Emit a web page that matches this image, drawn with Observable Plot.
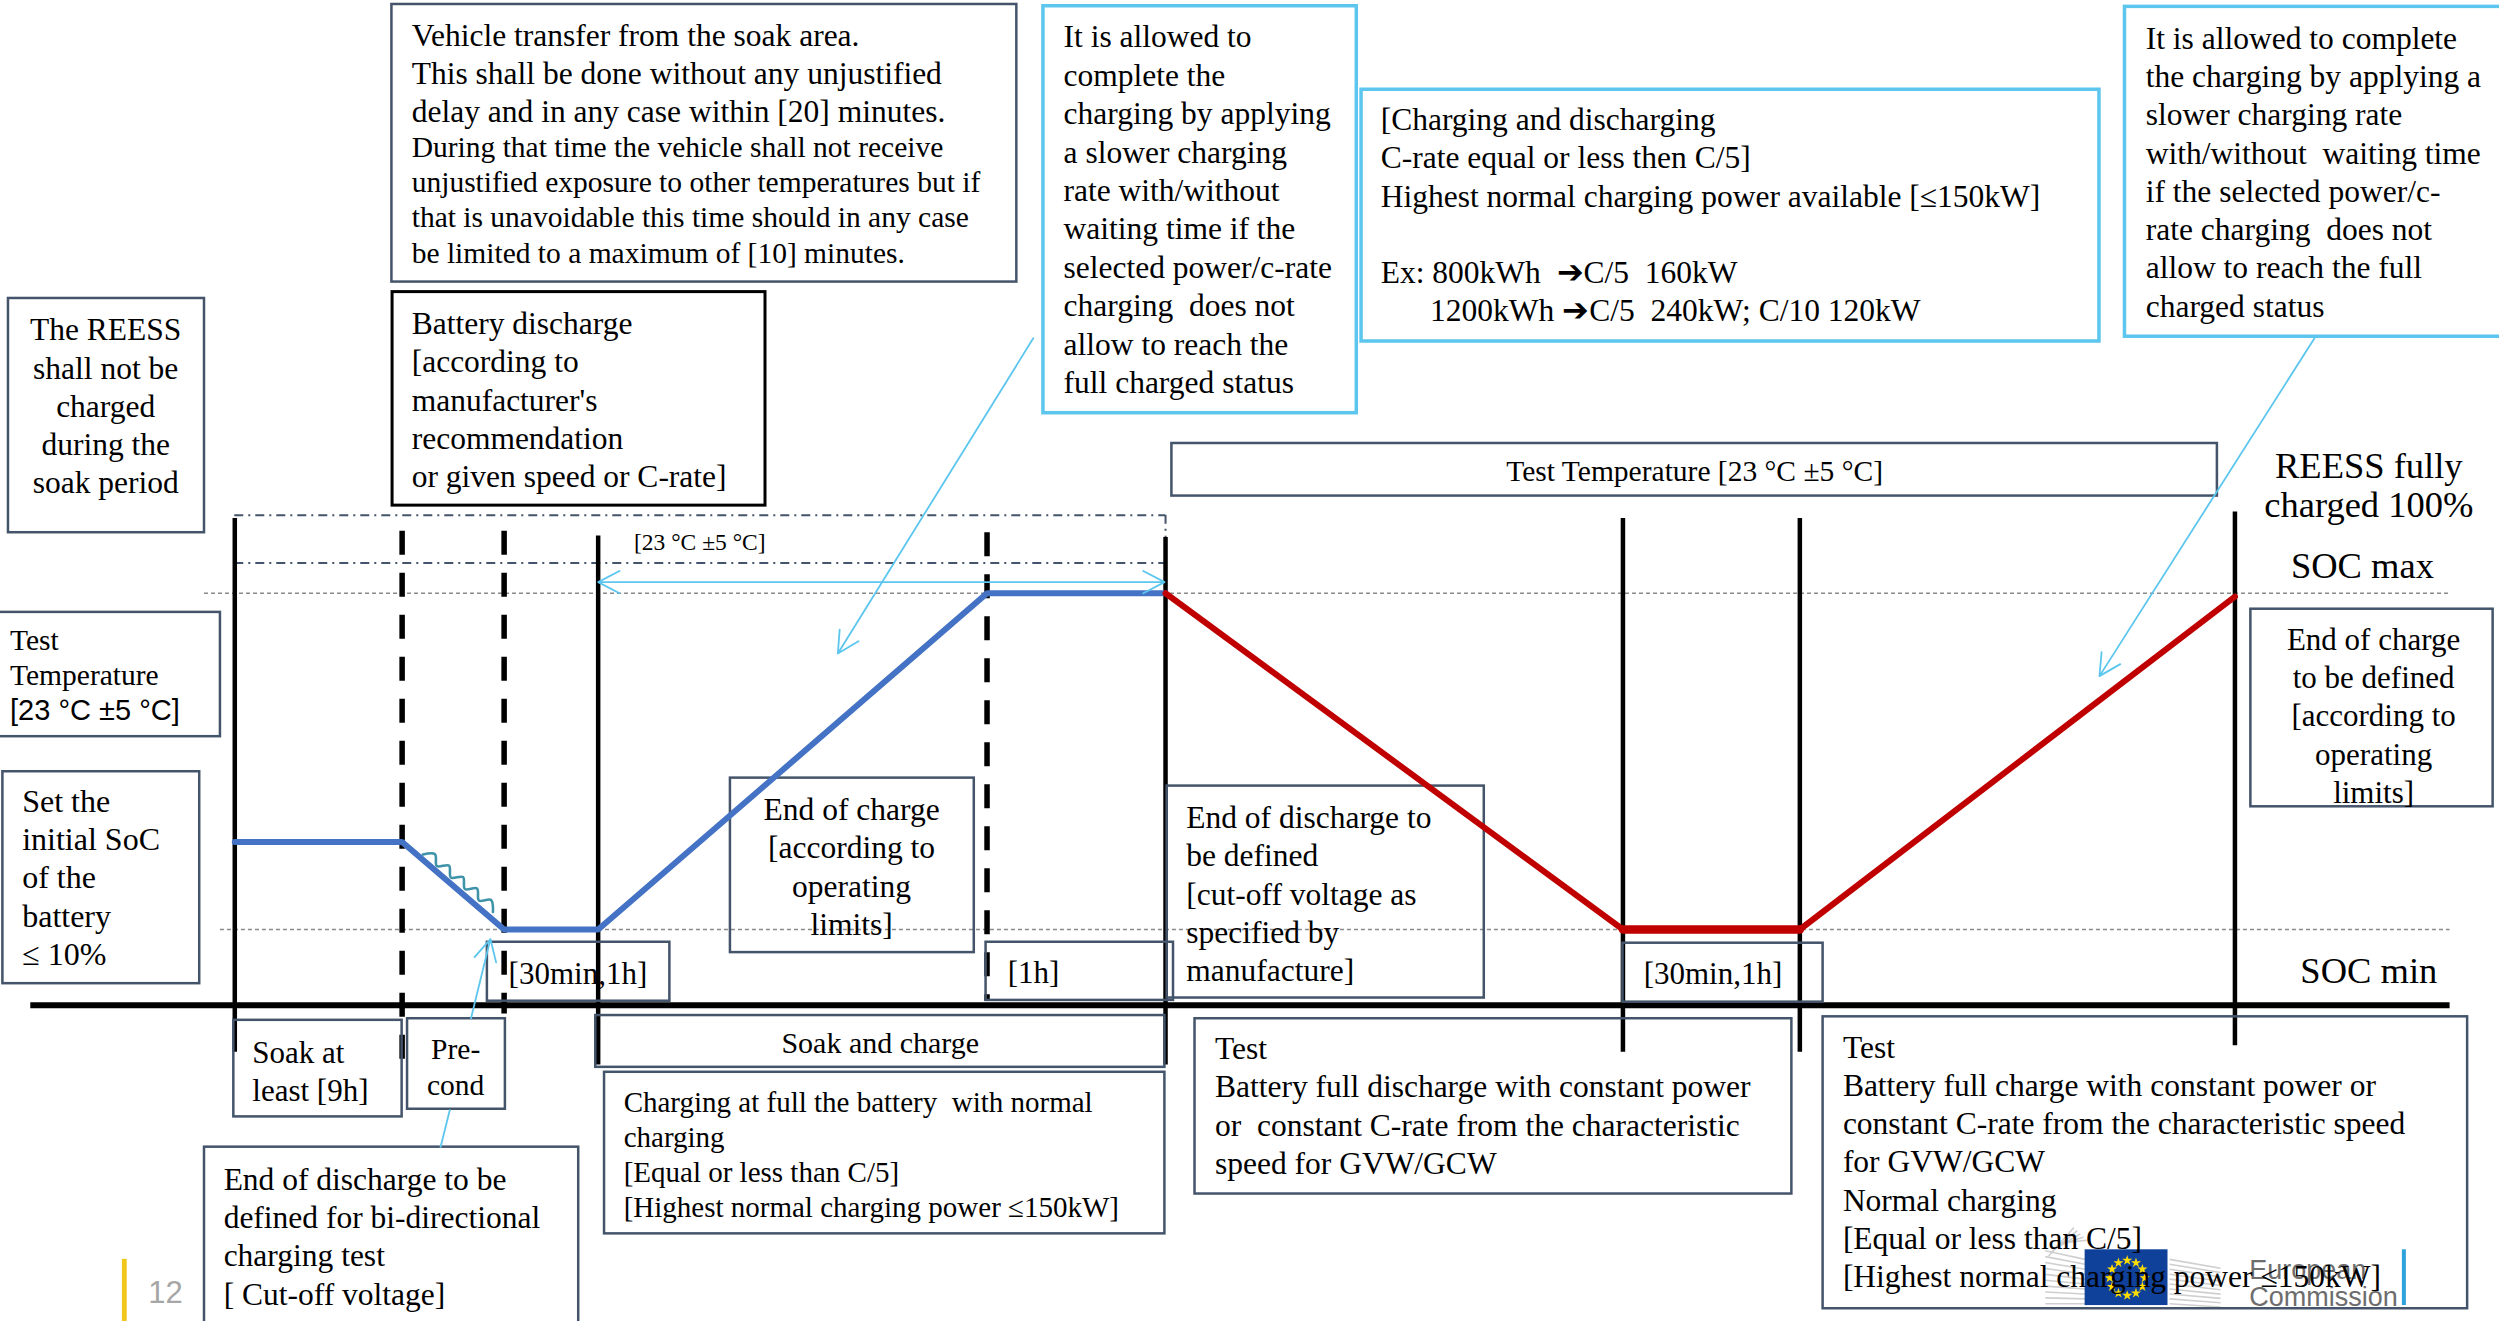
<!DOCTYPE html>
<html><head><meta charset="utf-8">
<script src="https://cdn.jsdelivr.net/npm/d3@7"></script>
<script src="https://cdn.jsdelivr.net/npm/@observablehq/plot@0.6"></script>
<style>html,body{margin:0;padding:0;background:#fff;overflow:hidden}#chart svg{display:block}</style>
</head><body><div id="chart"></div>
<script>
// ---------------- DATA ----------------
// schematic time positions of the phase boundaries
const phaseNames = ["Soak start","Pre-cond start","Pre-cond end","Soak & charge start","Charge end (1h)","Test start","Discharge end","Charge start","Charge end"];
const phaseTimes = [147, 252, 316, 375, 619, 731, 1018, 1129, 1402];
const phaseKinds = ["solid","dashed","dashed","solid","dashed","solid","solid","solid","solid"];
// SOC profile (0 = SOC min, 1 = SOC max)
const prepTimes = [147, 252, 316, 375, 619, 731];
const prepSOC   = [0.26, 0.26, 0, 0, 1, 1];
const testTimes = [731, 1018, 1129, 1402];
const testSOC   = [1, 0, 0, 0.99];
// text content
const txtReess   = ["The REESS","shall not be","charged","during the","soak period"];
const txtTransferA = ["Vehicle transfer from the soak area.","This shall be done without any unjustified","delay and in any case within [20] minutes."];
const txtTransferB = ["During that time the vehicle shall not receive","unjustified exposure to other temperatures but if","that is unavoidable this time should in any case","be limited to a maximum of [10] minutes."];
const txtBattDis = ["Battery discharge","[according to","manufacturer's","recommendation","or given speed or C-rate]"];
const txtAllowL  = ["It is allowed to","complete the","charging by applying","a slower charging","rate with/without","waiting time if the","selected power/c-rate","charging  does not","allow to reach the","full charged status"];
const txtCrate   = ["[Charging and discharging","C-rate equal or less then C/5]","Highest normal charging power available [≤150kW]","","Ex: 800kWh  ➔C/5  160kW"];
const txtCrate2  = ["1200kWh ➔C/5  240kW; C/10 120kW"];
const txtAllowR  = ["It is allowed to complete","the charging by applying a","slower charging rate","with/without  waiting time","if the selected power/c-","rate charging  does not","allow to reach the full","charged status"];
const txtTempTop = ["Test Temperature [23 °C ±5 °C]"];
const txtFull    = ["REESS fully","charged 100%"];
const txtSocMax  = ["SOC max"];
const txtSocMin  = ["SOC min"];
const txtTempL   = ["Test","Temperature"];
const txtTempL2  = ["[23 °C ±5 °C]"];
const txtInit    = ["Set the","initial SoC","of the","battery","≤ 10%"];
const txtEocMid  = ["End of charge","[according to","operating","limits]"];
const txtEodMid  = ["End of discharge to","be defined","[cut-off voltage as","specified by","manufacture]"];
const txtEocR    = ["End of charge","to be defined","[according to","operating","limits]"];
const txtDur1    = ["[30min,1h]"];
const txtDur2    = ["[1h]"];
const txtDur3    = ["[30min,1h]"];
const txtSoak    = ["Soak at","least [9h]"];
const txtPre     = ["Pre-","cond"];
const txtSoakChg = ["Soak and charge"];
const txtChgFull = ["Charging at full the battery  with normal","charging","[Equal or less than C/5]","[Highest normal charging power ≤150kW]"];
const txtTestDis = ["Test","Battery full discharge with constant power","or  constant C-rate from the characteristic","speed for GVW/GCW"];
const txtTestChg = ["Test","Battery full charge with constant power or","constant C-rate from the characteristic speed","for GVW/GCW","Normal charging","[Equal or less than C/5]","[Highest normal charging power ≤150kW]"];
const txtBidir   = ["End of discharge to be","defined for bi-directional","charging test","[ Cut-off voltage]"];
const txtSmallT  = ["[23 °C ±5 °C]"];
const txtPage    = ["12"];
const txtEC      = ["European","Commission"];

// ---------------- LAYOUT ----------------
const W = 2499, H = 1321, LW = 1568, LH = 829, K = W / LW;
const SOC_MIN_Y = 583, SOC_MAX_Y = 372;
const socY = s => SOC_MIN_Y - s * (SOC_MIN_Y - SOC_MAX_Y);
const slate = "#44546a", lblue = "#5cc6ee", blueLine = "#4472c4", redLine = "#c00000";
const serif = "Liberation Serif, Times New Roman, serif";
const sans = "Liberation Sans, Arial, sans-serif";

const prepProfile = prepTimes.map((t, i) => ({t, y: socY(prepSOC[i])}));
const testProfile = testTimes.map((t, i) => ({t, y: socY(testSOC[i])}));

const phaseTop = [325, 333, 333, 336, 334, 337, 325, 325, 321];
const phaseBot = [660, 665, 636, 668, 628, 668, 660, 660, 656];
const phases = phaseTimes.map((t, i) => ({name: phaseNames[i], t, kind: phaseKinds[i], y1: phaseTop[i], y2: phaseBot[i]}));

const boxes = [
  [5,187,128,334,slate,2.5],[245.6,2.5,637.7,176.7,slate,2.5],[246,183,480,317,"#000",3],
  [654.4,3.6,851,259,lblue,3.5],[854,56,1317,214,lblue,3.5],[1333,4,1580,211,lblue,3.5],
  [735,278,1391,311,slate,2.5],[-3,384,138,462,slate,2.5],[1.5,484,125,617,slate,2.5],
  [458,488,611,597.5,slate,2.5],[732,493,931,626,slate,2.5],[1412,382,1564,506,slate,2.5],
  [305.5,591,420,628,slate,2.5],[618.4,591,736,627.5,slate,2.5],[1018,591.6,1143.6,628.6,slate,2.5],
  [146.4,640,252,700.6,slate,2.5],[373.5,637,730.6,669.5,slate,2.5],
  [379,672.6,730.6,774,slate,2.5],[128,719.6,362.8,840,slate,2.5],[749.5,639,1124,749,slate,2.5],
  [1143.6,637.8,1548,821,slate,2.5]
].map(([x1,y1,x2,y2,stroke,sw]) => ({x1,y1,x2,y2,stroke,sw}));

// text blocks: lines, x, first-line centre y, font size (page px), line spacing (layout px), anchor, font, vertical nudge
const blocks = [
  [txtReess, 66, 207, 31.5, 24, "middle"],
  [txtTransferA, 258, 22, 31.5, 24, "start"],
  [txtTransferB, 258, 93, 29.5, 22, "start"],
  [txtBattDis, 258, 203, 31.5, 24, "start"],
  [txtAllowL, 667, 23, 31.5, 24.1, "start"],
  [txtCrate, 866, 75, 31.5, 24, "start"],
  [txtCrate2, 897, 195, 31.5, 24, "start"],
  [txtAllowR, 1346, 24, 31.5, 24, "start"],
  [txtTempTop, 1063, 295, 29.5, 24, "middle"],
  [txtFull, 1486, 291, 36.5, 25, "middle", serif, 0],
  [txtSocMax, 1482, 355, 36.5, 24, "middle", serif, 0],
  [txtSocMin, 1486, 609, 36.5, 24, "middle", serif, 0],
  [txtTempL, 6, 402, 29.5, 22, "start"],
  [txtTempL2, 6, 446, 29, 22, "start", sans],
  [txtInit, 13.6, 503, 32, 24, "start"],
  [txtEocMid, 534, 508, 31.5, 24, "middle"],
  [txtEodMid, 744, 513, 31.5, 24, "start"],
  [txtEocR, 1489, 401, 31, 24, "middle"],
  [txtDur1, 318.8, 611, 31, 24, "start"],
  [txtDur2, 632, 610, 31, 24, "start"],
  [txtDur3, 1031, 611, 31, 24, "start"],
  [txtSoak, 158, 660, 31, 24, "start"],
  [txtPre, 285.6, 658, 29.5, 23, "middle"],
  [txtSoakChg, 552, 654, 30, 24, "middle"],
  [txtChgFull, 391, 692, 29, 22, "start"],
  [txtTestDis, 762, 658, 31.5, 24, "start"],
  [txtTestChg, 1156, 657, 31.5, 24, "start"],
  [txtBidir, 140, 740, 31.5, 24, "start"],
  [txtSmallT, 397.5, 338, 23.5, 24, "start", serif, 4]
];
const textMarks = blocks.map(([lines, x, yc, fs, sp, anchor, font, nudge]) =>
  Plot.text([{x, y: yc - 0.41 * fs / K - (nudge === undefined ? 2.6 : nudge), s: lines.join("\n")}], {
    x: "x", y: "y", text: "s", fontSize: fs, lineHeight: sp * K / fs,
    textAnchor: anchor, lineAnchor: "top", fontFamily: font || serif, fill: "#000"
  })
);

// squiggle glyph on the pre-conditioning discharge
const squiggle = [[265,536],[272.6,535.7],[273.8,543.2],[281.4,542.9],[282.6,550.4],[290.2,550.1],[291.4,557.6],[299,557.3],[300.2,564.8],[307.8,564.5],[309,572]].map(([x,y]) => ({x,y}));

// EU logo decoration
const stars = d3.range(12).map(i => ({x: 1334.4 + 11 * Math.cos(i * Math.PI / 6), y: 801.7 + 11 * Math.sin(i * Math.PI / 6)}));
const fanL = d3.range(10).map(i => ({x1: 1283, x2: 1308, y1: 790 + i * 3.1 - (9 - i) * 0.6, y2: 790 + i * 3.1}));
const fanR = d3.range(10).map(i => ({x1: 1361, x2: 1393, y1: 790 + i * 3.1, y2: 792 + i * 3.1 + (9 - i) * 0.4}));
const fanT = d3.range(5).map(i => ({x1: 1285 + i * 1.5, x2: 1301 + i * 2, y1: 788 - i * 2, y2: 770 + i * 2}));

const chart = Plot.plot({
  width: W, height: H, margin: 0,
  x: {domain: [0, LW], range: [0, W], axis: null},
  y: {domain: [0, LH], range: [0, H], axis: null},
  style: {background: "#fff", overflow: "hidden"},
  marks: [
    // SOC max/min reference lines
    Plot.ruleY([{y: SOC_MAX_Y, x1: 128, x2: 1537}, {y: SOC_MIN_Y, x1: 138, x2: 1537}], {y: "y", x1: "x1", x2: "x2", stroke: "#8a8a8a", strokeWidth: 1.6, strokeDasharray: "4,3"}),
    // dash-dot temperature band
    Plot.ruleY([323, 353], {x1: 147, x2: 731, stroke: slate, strokeWidth: 2, strokeDasharray: "9,5,2,5"}),
    Plot.ruleX([731], {y1: 323, y2: 340, stroke: slate, strokeWidth: 2, strokeDasharray: "9,5,2,5"}),
    // time axis
    Plot.ruleY([630.5], {x1: 19, x2: 1537, stroke: "#000", strokeWidth: 6}),
    // phase boundaries
    Plot.ruleX(phases.filter(d => d.kind === "solid"), {x: "t", y1: "y1", y2: "y2", stroke: "#000", strokeWidth: 4.5}),
    Plot.ruleX(phases.filter(d => d.kind === "dashed"), {x: "t", y1: "y1", y2: "y2", stroke: "#000", strokeWidth: 5.5, strokeDasharray: "24,18"}),
    // EU logo (behind text)
    Plot.link(fanL.concat(fanR, fanT), {x1: "x1", x2: "x2", y1: "y1", y2: "y2", stroke: "#cfcfcf", strokeWidth: 1.6}),
    Plot.rect([{x1: 1308, x2: 1360, y1: 784, y2: 819}], {x1: "x1", x2: "x2", y1: "y1", y2: "y2", fill: "#10419a"}),
    Plot.dot(stars, {x: "x", y: "y", symbol: "star", r: 3.2, fill: "#ffdd00"}),
    Plot.text(txtEC.map((s, i) => ({s, y: [800, 817][i]})), {x: 1411, y: "y", text: "s", fontSize: 27, fontFamily: sans, fill: "#6d6d6d", textAnchor: "start", lineAnchor: "bottom", dy: 4}),
    Plot.ruleX([1508], {y1: 784, y2: 819, stroke: "#2ea3dc", strokeWidth: 4}),
    // boxes
    Plot.rect(boxes, {x1: "x1", x2: "x2", y1: "y1", y2: "y2", stroke: "stroke", strokeWidth: "sw", fill: "none"}),
    Plot.rect([{x1: 255.4, x2: 316.8, y1: 639, y2: 695.8}], {x1: "x1", x2: "x2", y1: "y1", y2: "y2", stroke: slate, strokeWidth: 2.5, fill: "none"}),
    // SOC profiles
    Plot.line(prepProfile, {x: "t", y: "y", stroke: blueLine, strokeWidth: 6, strokeLinejoin: "miter"}),
    Plot.line(testProfile, {x: "t", y: "y", stroke: redLine, strokeWidth: 6, strokeLinejoin: "miter"}),
    Plot.line(testProfile.slice(1, 3), {x: "t", y: "y", stroke: redLine, strokeWidth: 8.5}),
    Plot.line(squiggle, {x: "x", y: "y", stroke: "#3f93a9", strokeWidth: 2.6, curve: "catmull-rom"}),
    // callout arrows
    Plot.arrow([
      {x1: 648, y1: 212, x2: 525.4, y2: 409.8},
      {x1: 1452.5, y1: 211, x2: 1317, y2: 424},
      {x1: 295.2, y1: 638.8, x2: 307.4, y2: 589},
      {x1: 553, y1: 365, x2: 375, y2: 365},
      {x1: 553, y1: 365, x2: 730.4, y2: 365}
    ], {x1: "x1", y1: "y1", x2: "x2", y2: "y2", stroke: lblue, strokeWidth: 1.8, headLength: 20, headAngle: 55}),
    Plot.link([{x1: 282, y1: 696, x2: 276, y2: 720}], {x1: "x1", y1: "y1", x2: "x2", y2: "y2", stroke: lblue, strokeWidth: 1.8}),
    // page marker
    Plot.rect([{x1: 76.5, x2: 79.5, y1: 790, y2: 829}], {x1: "x1", x2: "x2", y1: "y1", y2: "y2", fill: "#f2c71b"}),
    Plot.text(txtPage, {x: 103.5, y: 811, text: d => d, fontSize: 31, fontFamily: sans, fill: "#a6a6a6"}),
    ...textMarks
  ]
});
document.getElementById("chart").appendChild(chart);
</script>
</body></html>
